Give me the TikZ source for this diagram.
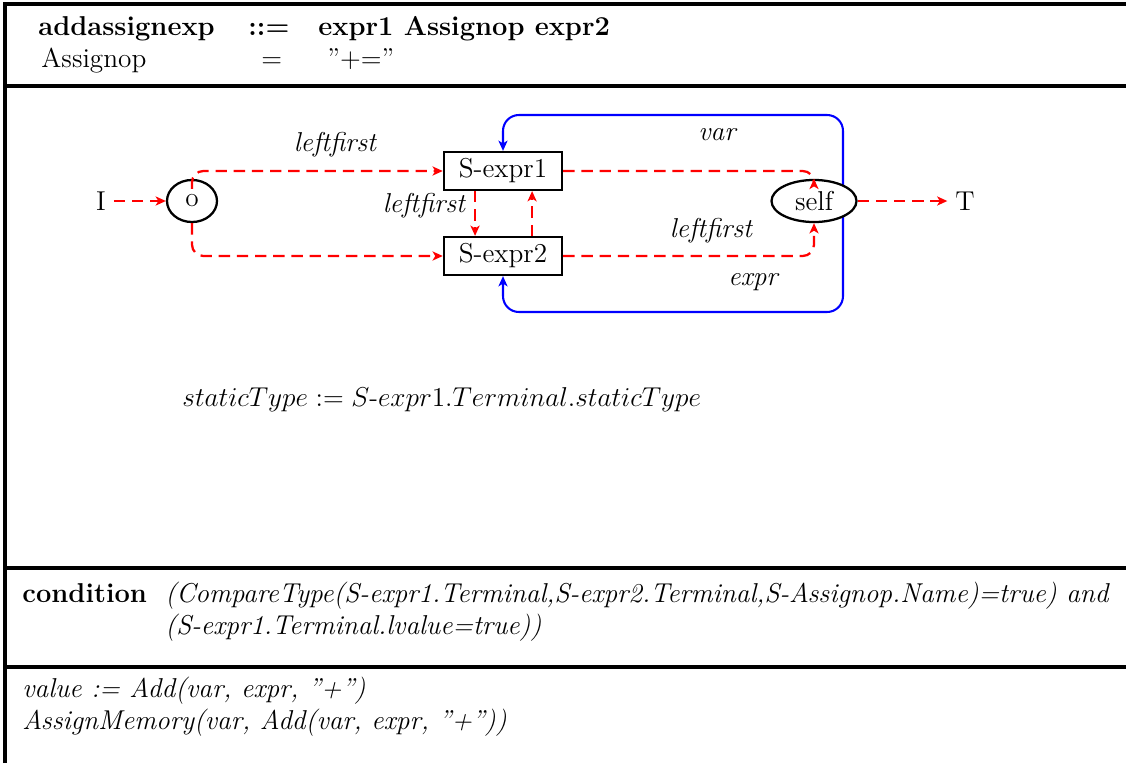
\documentclass[tikz,border=0pt]{standalone}
\usetikzlibrary{arrows.meta,shapes.geometric,calc}
\begin{document}
\begin{tikzpicture}[x=0.44pt,y=-0.44pt,font=\fontsize{12}{14.5}\selectfont,
  frame/.style={line width=1.4pt},
  rline/.style={red,line width=1pt,dash pattern=on 5pt off 3pt,-{Stealth[length=4.5pt,width=4pt,inset=1.2pt]}},
  bline/.style={blue,line width=0.9pt,rounded corners=7pt,-{Stealth[length=4.5pt,width=4pt,inset=1.2pt]}},
  boxnode/.style={draw,line width=1pt,rectangle,minimum width=52pt,minimum height=16.7pt,inner sep=0pt,fill=white},
  ellnode/.style={draw,line width=1pt,ellipse,inner sep=0pt,fill=white},
  txt/.style={anchor=base west,inner sep=0pt},
  lbl/.style={inner sep=0pt}]
\useasboundingbox (0,0) rectangle (1126,763);
% frame
\draw[frame] (5,763) -- (5,4) -- (1126,4);
\draw[frame] (5,86) -- (1126,86);
\draw[frame] (5,568) -- (1126,568);
\draw[frame] (5,667) -- (1126,667);
% header
\node[txt] (h1) at (38,35) {\bfseries addassignexp};
\node[txt] (h2) at (248,35) {\bfseries ::=};
\node[txt] (h3) at (318,35) {\bfseries expr1 Assignop expr2};
\node[txt] (h4) at (41,67) {Assignop};
\node[txt] (h5) at (261,67) {=};
\node[txt] (h6) at (327,67) {"+="};
% nodes
\node (I) at (101,201) {I};
\node[ellnode,minimum width=22pt,minimum height=18.5pt] (o) at (192,201) {o};
\node[boxnode] (S1) at (503,171) {S-expr1};
\node[boxnode] (S2) at (503,256) {S-expr2};
\node (T) at (965,201) {T};
% blue loops
\coordinate (vx) at (843,201);
\coordinate (vtop) at (843,115);
\coordinate (vbot) at (843,312);
\draw[bline] (vx) -- (vtop) -| (S1.north);
\draw[bline] (vx) -- (vbot) -| (S2.south);
\node[ellnode,minimum width=37.4pt,minimum height=18.5pt] (self) at (814,201) {self};
% red connectors
\draw[rline] (I) -- (o);
\draw[rline,rounded corners=5pt] ($(o.north)+(0,10)$) |- (S1.west);
\draw[rline,rounded corners=5pt] (o.south) |- (S2.west);
\draw[rline] ([xshift=-12.3pt]S1.south) -- ([xshift=-12.3pt]S2.north);
\draw[rline] ([xshift=12.8pt]S2.north) -- ([xshift=12.8pt]S1.south);
\draw[rline,rounded corners=5pt] (S1.east) -| (self.north);
\draw[rline,rounded corners=5pt] (S2.east) -| (self.south);
\draw[rline] (self) -- (T);
% labels
\node[lbl] (l1) at (335,145) {\itshape leftfirst};
\node[lbl] (l2) at (424,206) {\itshape leftfirst};
\node[lbl] (l3) at (711,231) {\itshape leftfirst};
\node[lbl] (l4) at (717,135) {\itshape var};
\node[lbl] (l5) at (753,282) {\itshape expr};
\node[txt] (st) at (182,406) {\fontsize{11.7}{14}\selectfont $staticType := S$-$expr1.Terminal.staticType$};
% condition
\node[txt] (c1) at (22,602) {\bfseries condition};
\node[txt] (c2) at (165,602) {\itshape (CompareType(S-expr1.Terminal,S-expr2.Terminal,S-Assignop.Name)=true) and};
\node[txt] (c3) at (165,634) {\itshape (S-expr1.Terminal.lvalue=true))};
% actions
\node[txt] (a1) at (22,697) {\itshape value := Add(var, expr, "+")};
\node[txt] (a2) at (22,729) {\itshape AssignMemory(var, Add(var, expr, "+"))};
\end{tikzpicture}
\end{document}
